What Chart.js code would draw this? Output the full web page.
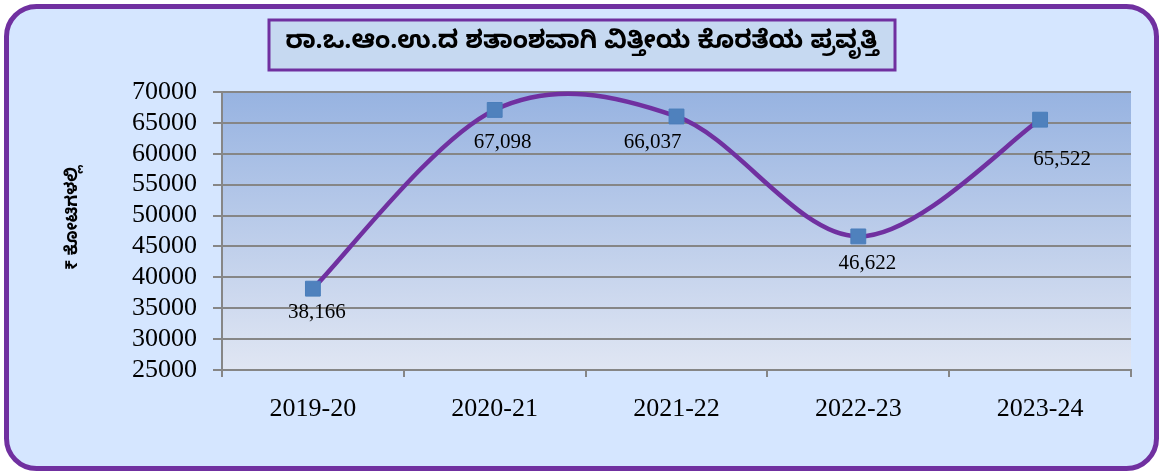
<!DOCTYPE html>
<html lang="kn">
  <head>
    <meta charset="UTF-8" />
    <title>ರಾ.ಒ.ಆಂ.ಉ.ದ ಶತಾಂಶವಾಗಿ ವಿತ್ತೀಯ ಕೊರತೆಯ ಪ್ರವೃತ್ತಿ</title>
    <script src="https://cdn.jsdelivr.net/npm/chart.js@4"></script>
    <style>
      body { margin: 0; background: #ffffff; }
      canvas { display: block; }
    </style>
  </head>
  <body>
    <canvas id="myChart" width="1163" height="475"></canvas>
    <script>
      const titleText = 'ರಾ.ಒ.ಆಂ.ಉ.ದ ಶತಾಂಶವಾಗಿ ವಿತ್ತೀಯ ಕೊರತೆಯ ಪ್ರವೃತ್ತಿ';
      const yAxisTitle = '₹ ಕೋಟಿಗಳಲ್ಲಿ';
      const years = ['2019-20', '2020-21', '2021-22', '2022-23', '2023-24'];
      const deficit = [38166, 67098, 66037, 46622, 65522];
      const yMin = 25000;
      const yMax = 70000;
      const yStep = 5000;

      const purple = '#7030A0';
      const serif = "'Liberation Serif', 'Times New Roman', serif";
      const kannada = "'Noto Sans Kannada', 'Noto Sans', sans-serif";

      // where Excel put each data label, relative to its point
      const labelOffsets = [[4, 24], [8, 33], [-24, 26], [9, 27], [22, 40]];

      function roundRect(ctx, x, y, w, h, r) {
        ctx.beginPath();
        ctx.moveTo(x + r, y);
        ctx.arcTo(x + w, y, x + w, y + h, r);
        ctx.arcTo(x + w, y + h, x, y + h, r);
        ctx.arcTo(x, y + h, x, y, r);
        ctx.arcTo(x, y, x + w, y, r);
        ctx.closePath();
      }

      // Excel-style smoothing: Catmull-Rom tangents (next - prev) / 6
      const excelSmooth = {
        id: 'excelSmooth',
        beforeDatasetDraw(chart, args) {
          const meta = args.meta;
          meta.dataset.updateControlPoints(chart.chartArea, meta.iScale.axis);
          const pts = meta.data;
          pts.forEach((p, i) => {
            const prev = pts[Math.max(i - 1, 0)];
            const next = pts[Math.min(i + 1, pts.length - 1)];
            const tx = (next.x - prev.x) / 6;
            const ty = (next.y - prev.y) / 6;
            p.cp1x = p.x - tx; p.cp1y = p.y - ty;
            p.cp2x = p.x + tx; p.cp2y = p.y + ty;
          });
          meta.dataset._path = undefined;
        }
      };

      const framePlugin = {
        id: 'frame',
        beforeDraw(chart) {
          const ctx = chart.ctx;
          const a = chart.chartArea;
          ctx.save();
          ctx.fillStyle = '#ffffff';
          ctx.fillRect(0, 0, chart.width, chart.height);
          roundRect(ctx, 6.5, 6.5, chart.width - 13, chart.height - 13, 30);
          ctx.fillStyle = '#D5E6FF';
          ctx.fill();
          ctx.lineWidth = 5;
          ctx.strokeStyle = purple;
          ctx.stroke();

          const g = ctx.createLinearGradient(0, a.top, 0, a.bottom);
          g.addColorStop(0, '#97B3E1');
          g.addColorStop(1, '#E0E6F3');
          ctx.fillStyle = g;
          ctx.fillRect(a.left, a.top, a.right - a.left, a.bottom - a.top);
          ctx.restore();
        },
        afterDraw(chart) {
          const ctx = chart.ctx;
          ctx.save();
          // title box
          ctx.fillStyle = '#C6D9F1';
          ctx.fillRect(269, 20, 626, 50);
          ctx.lineWidth = 3;
          ctx.strokeStyle = purple;
          ctx.strokeRect(269, 20, 626, 50);
          ctx.fillStyle = '#000000';
          ctx.font = 'bold 25px ' + kannada;
          ctx.textAlign = 'center';
          ctx.textBaseline = 'middle';
          ctx.fillText(titleText, 582, 45);

          // y axis title
          ctx.save();
          ctx.translate(75, 218);
          ctx.rotate(-Math.PI / 2);
          ctx.font = 'bold 17px ' + kannada;
          ctx.fillText(yAxisTitle, 0, 0);
          ctx.restore();

          // data labels
          const meta = chart.getDatasetMeta(0);
          ctx.font = '21px ' + serif;
          meta.data.forEach((pt, i) => {
            const [dx, dy] = labelOffsets[i];
            ctx.fillText(deficit[i].toLocaleString('en-US'), pt.x + dx, pt.y + dy);
          });
          ctx.restore();
        }
      };

      const ctx = document.getElementById('myChart').getContext('2d');
      new Chart(ctx, {
        type: 'line',
        data: {
          labels: years,
          datasets: [{
            data: deficit,
            borderColor: purple,
            borderWidth: 4.5,
            tension: 0.4,
            capBezierPoints: false,
            clip: false,
            pointStyle: 'rect',
            pointRadius: 10.5,
            pointBackgroundColor: '#4F81BD',
            pointBorderColor: '#4A7EBB',
            pointBorderWidth: 1
          }]
        },
        options: {
          responsive: false,
          animation: false,
          layout: { padding: { left: 0, right: 32, top: 92, bottom: 0 } },
          plugins: {
            legend: { display: false },
            tooltip: { enabled: false },
            title: { display: false }
          },
          scales: {
            x: {
              offset: true,
              afterFit(scale) { scale.height = 105; },
              grid: {
                offset: true,
                drawOnChartArea: false,
                tickLength: 7,
                color: '#868686',
                lineWidth: 2
              },
              border: { color: '#868686', width: 2 },
              ticks: {
                color: '#000000',
                padding: 17,
                font: { family: serif, size: 26 }
              }
            },
            y: {
              min: yMin,
              max: yMax,
              afterFit(scale) { scale.width = 222; },
              grid: {
                color: '#868686',
                lineWidth: 2,
                tickLength: 9
              },
              border: { color: '#868686', width: 2 },
              ticks: {
                stepSize: yStep,
                autoSkip: false,
                color: '#000000',
                padding: 16,
                font: { family: serif, size: 26 },
                callback: v => String(v)
              }
            }
          }
        },
        plugins: [excelSmooth, framePlugin]
      });
    </script>
  </body>
</html>
